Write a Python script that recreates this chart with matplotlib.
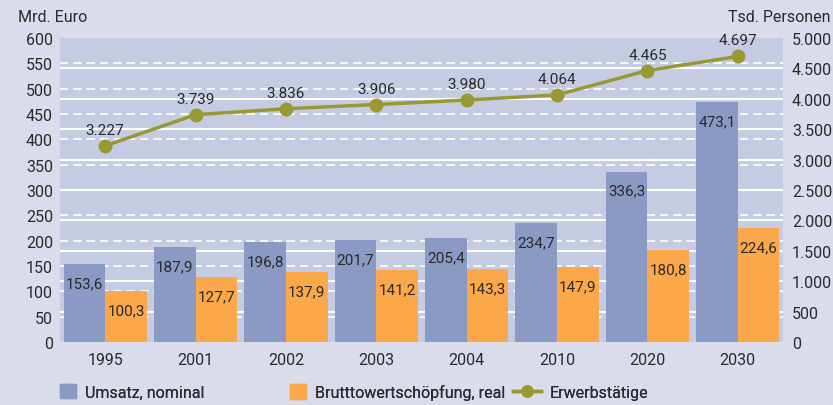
import matplotlib.pyplot as plt
import numpy as np
from matplotlib.lines import Line2D
from matplotlib.patches import Patch

years = ["1995", "2001", "2002", "2003", "2004", "2010", "2020", "2030"]
umsatz = [153.6, 187.9, 196.8, 201.7, 205.4, 234.7, 336.3, 473.1]
bws = [100.3, 127.7, 137.9, 141.2, 143.3, 147.9, 180.8, 224.6]
erwerb = [3227, 3739, 3836, 3906, 3980, 4064, 4465, 4697]

def de(v):
    return f"{v:.1f}".replace(".", ",")

def thou(v):
    return f"{int(v):,}".replace(",", ".")

plt.rcParams['font.family'] = ['Roboto', 'DejaVu Sans']
fs = 11
tfs = 11.5

fig = plt.figure(figsize=(8.33, 4.06), dpi=100)
fig.patch.set_facecolor('#dadcec')
ax = fig.add_axes([60/833, 1-343/406, 723/833, 304/406])
ax.set_facecolor('#c5cbe3')
ax2 = ax.twinx()

x = np.arange(len(years))
w = 0.46
blue = '#8a9ac4'
orange = '#fba84a'
green = '#999933'
tc = '#2a2a2a'

for y in range(50, 600, 50):
    ax.axhline(y, color='white', lw=1.2, ls=(0, (5, 3)), zorder=1)
for y in range(500, 5000, 500):
    ax.axhline(y * 600 / 5000, color='white', lw=1.5, zorder=1)

ax.bar(x - w/2, umsatz, w, color=blue, zorder=2)
ax.bar(x + w/2, bws, w, color=orange, zorder=2)
off = 19 * 600 / 304
for xi, v in zip(x, umsatz):
    ax.text(xi - w/2, v - off, de(v), ha='center', va='center', fontsize=fs, color=tc, zorder=3)
for xi, v in zip(x, bws):
    ax.text(xi + w/2, v - off, de(v), ha='center', va='center', fontsize=fs, color=tc, zorder=3)

ax.set_xlim(-0.5, len(years) - 0.5)
ax.set_ylim(0, 600)
ax2.set_ylim(0, 5000)
ax.set_yticks(range(0, 601, 50))
ax2.set_yticks(range(0, 5001, 500))
ax2.set_yticklabels([thou(v) for v in range(0, 5001, 500)])
ax.set_xticks(x)
ax.set_xticklabels(years)

ax2.plot(x, erwerb, color=green, lw=2.5, marker='o', ms=9, zorder=4)
loff = 16 * 5000 / 304
for xi, v in zip(x, erwerb):
    ax2.text(xi, v + loff, thou(v), ha='center', va='center', fontsize=fs, color=tc)

for a in (ax, ax2):
    for s in a.spines.values():
        s.set_visible(False)
    a.tick_params(length=0, labelsize=tfs, colors=tc)
ax.tick_params(axis='y', pad=5)
ax2.tick_params(axis='y', pad=6.5)
ax.tick_params(axis='x', pad=7)
ax.set_zorder(ax2.get_zorder() - 1)
ax2.patch.set_visible(False)

fig.text(18/833, 1-17/406, 'Mrd. Euro', fontsize=tfs, color=tc, va='center', ha='left')
fig.text(830/833, 1-17/406, 'Tsd. Personen', fontsize=tfs, color=tc, va='center', ha='right')

handles = [
    (Patch(color=blue), 'Umsatz, nominal', 60, 1.0),
    (Patch(color=orange), 'Brutttowertschöpfung, real', 290, 1.0),
    (Line2D([], [], color=green, lw=2.5, marker='o', ms=8), 'Erwerbstätige', 513, 1.75),
]
for h, lab, px, hl in handles:
    lg = fig.legend(handles=[h], labels=[lab], loc='center left', bbox_to_anchor=(px/833, 1-393/406),
                    frameon=False, fontsize=tfs, handlelength=hl,
                    handleheight=1.0, handletextpad=0.55, borderaxespad=0, borderpad=0)
    for t in lg.get_texts():
        t.set_color(tc)
    fig.add_artist(lg)

fig.savefig('out.png', dpi=100, facecolor=fig.get_facecolor())
